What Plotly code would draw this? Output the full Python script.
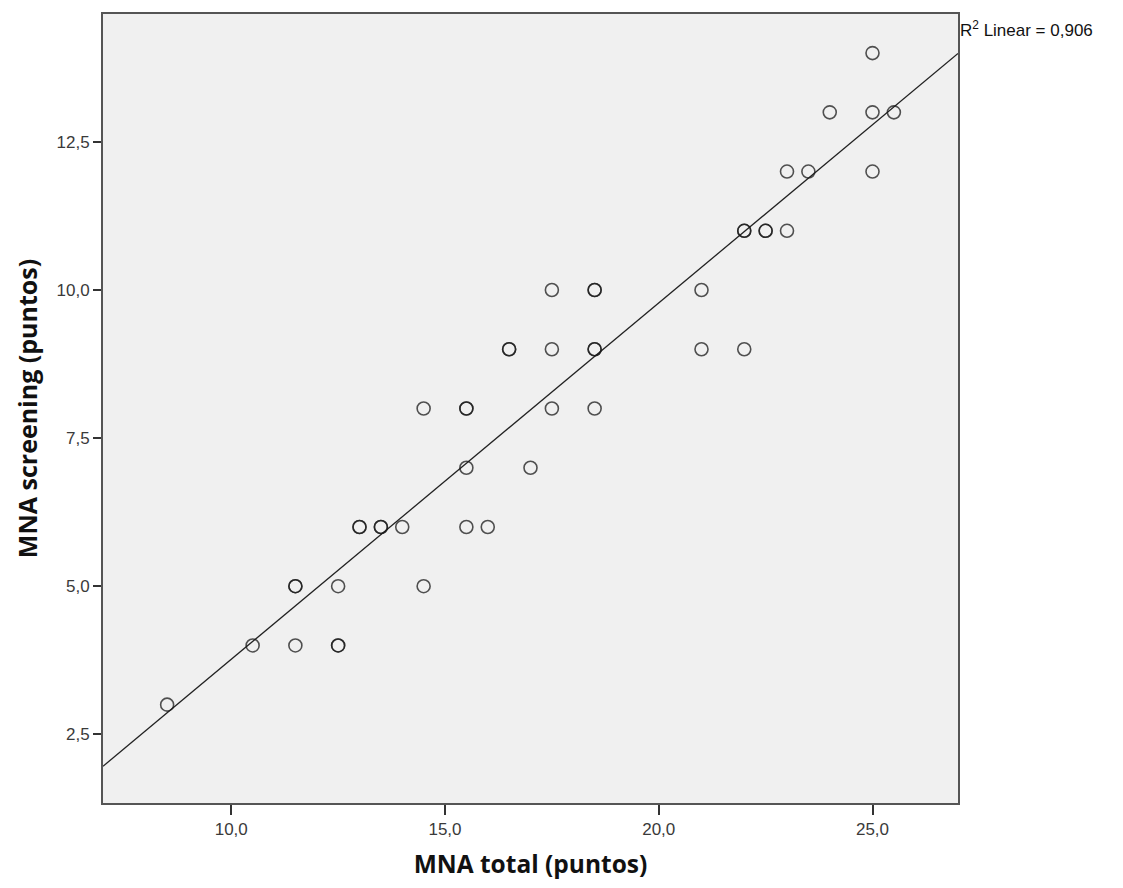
import numpy as np
import plotly.graph_objects as go

# MNA total (x) and MNA screening (y); duplicates reflect darker (overlapping) circles
mna_total = [8.5, 10.5, 11.5, 11.5, 11.5, 12.5, 12.5, 12.5,
             13.0, 13.0, 13.5, 13.5, 14.0, 14.5, 14.5,
             15.5, 15.5, 15.5, 15.5, 16.0, 16.5, 16.5, 17.0,
             17.5, 17.5, 17.5, 18.5, 18.5, 18.5, 18.5, 18.5,
             21.0, 21.0, 22.0, 22.0, 22.0, 22.5, 22.5, 23.0, 23.0,
             23.5, 24.0, 25.0, 25.0, 25.0, 25.5]
mna_screening = [3, 4, 5, 5, 4, 5, 4, 4,
                 6, 6, 6, 6, 6, 8, 5,
                 8, 8, 7, 6, 6, 9, 9, 7,
                 10, 9, 8, 10, 10, 9, 9, 8,
                 10, 9, 11, 11, 9, 11, 11, 12, 11,
                 12, 13, 14, 13, 12, 13]
r2_text = "R<sup>2</sup> Linear = 0,906"
x_range = [7, 27]
y_range = [1.34, 14.66]

slope, intercept = np.polyfit(mna_total, mna_screening, 1)
line_x = np.array(x_range, dtype=float)
line_y = intercept + slope * line_x

fig = go.Figure()
fig.add_trace(go.Scatter(
    x=line_x, y=line_y, mode="lines",
    line=dict(color="#222222", width=1.3), hoverinfo="skip", showlegend=False))
fig.add_trace(go.Scatter(
    x=mna_total, y=mna_screening, mode="markers",
    marker=dict(symbol="circle-open", size=13,
                line=dict(color="rgba(25,25,25,0.75)", width=1.6),
                color="rgba(25,25,25,0.75)"),
    showlegend=False))

axis_common = dict(showline=True, linecolor="#555555", linewidth=2, mirror=True,
                   showgrid=False, zeroline=False, ticks="outside",
                   tickcolor="#333333", tickwidth=2,
                   tickfont=dict(family="Liberation Sans, Arial", size=17, color="#3a3a3a"),
                   tickformat=".1f")

fig.update_xaxes(range=x_range, tickvals=[10, 15, 20, 25], ticklen=10,
                 title=dict(text="<b>MNA total (puntos)</b>",
                            font=dict(family="Open Sans", size=24.5, color="#111111"),
                            standoff=17),
                 **axis_common)
fig.update_yaxes(range=y_range, tickvals=[2.5, 5, 7.5, 10, 12.5], ticklen=8,
                 title=dict(text="<b>MNA screening (puntos)</b>",
                            font=dict(family="Open Sans", size=25, color="#111111"),
                            standoff=12),
                 **axis_common)

fig.add_annotation(text=r2_text, xref="paper", yref="paper", x=1.0, y=1.0,
                   xanchor="left", yanchor="top", xshift=0, yshift=-2, showarrow=False,
                   font=dict(family="Liberation Sans, Arial", size=17, color="#111111"))

fig.update_layout(width=1123, height=888, separators=",.",
                  margin=dict(l=95, r=173, t=4, b=93),
                  plot_bgcolor="#f0f0f0", paper_bgcolor="white")

fig.write_html("out.html")
